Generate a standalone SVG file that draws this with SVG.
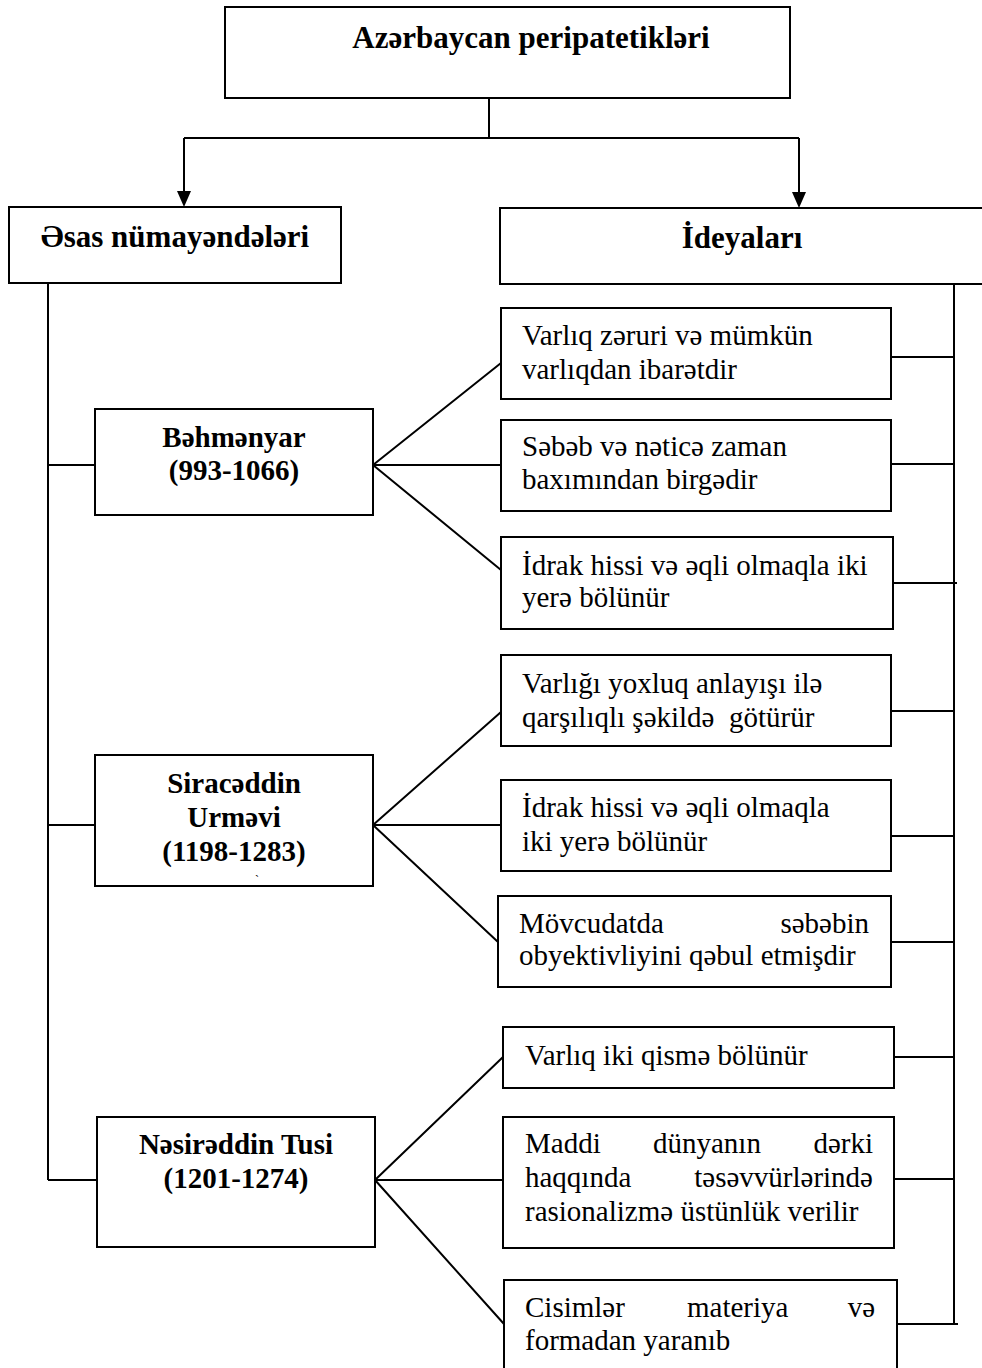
<svg xmlns="http://www.w3.org/2000/svg" width="982" height="1368" viewBox="0 0 982 1368">
<defs>
<style>
.box{fill:#fff;stroke:#000;stroke-width:2}
.ln{fill:none;stroke:#000;stroke-width:2}
.hd{font-family:"Liberation Serif","Times New Roman",serif;font-weight:bold;font-size:31px;fill:#000}
.nm{font-family:"Liberation Serif","Times New Roman",serif;font-weight:bold;font-size:29px;fill:#000;text-anchor:middle}
.tx{font-family:"Liberation Serif","Times New Roman",serif;font-size:29px;fill:#000}
</style>
<marker id="arr" viewBox="0 0 14 16" refX="7" refY="16" markerWidth="14" markerHeight="16" markerUnits="userSpaceOnUse" orient="auto-start-reverse">
<path d="M0,0 L14,0 L7,16 Z" fill="#000"/>
</marker>
</defs>
<rect width="982" height="1368" fill="#fff"/>

<g id="connectors">
<path class="ln" d="M489,98 V138"/>
<path class="ln" d="M184,138 H799"/>
<path class="ln" d="M184,138 V191"/>
<path d="M177,191 L191,191 L184,207 Z" fill="#000"/>
<path class="ln" d="M799,138 V192"/>
<path d="M792,192 L806,192 L799,208 Z" fill="#000"/>
<path class="ln" d="M48,283 V1180"/>
<path class="ln" d="M48,465 H98"/>
<path class="ln" d="M48,825 H95"/>
<path class="ln" d="M48,1180 H97"/>
<path class="ln" d="M954,284 V1324"/>
<path class="ln" d="M891,357 H954"/>
<path class="ln" d="M891,464 H954"/>
<path class="ln" d="M893,583 H957"/>
<path class="ln" d="M891,711 H954"/>
<path class="ln" d="M891,836 H954"/>
<path class="ln" d="M891,942 H954"/>
<path class="ln" d="M894,1057 H954"/>
<path class="ln" d="M894,1179 H954"/>
<path class="ln" d="M897,1324 H958"/>
<path class="ln" d="M373,465 L501,363 M373,465 H501 M373,465 L501,570"/>
<path class="ln" d="M373,825 L501,712 M373,825 H501 M373,825 L498,942"/>
<path class="ln" d="M375,1180 L503,1057 M375,1180 H503 M375,1180 L504,1324"/>
</g>

<g id="title">
<rect class="box" x="225" y="7" width="565" height="91"/>
<text class="hd" x="531" y="48" text-anchor="middle">Azərbaycan peripatetikləri</text>
</g>

<g id="esas">
<rect class="box" x="9" y="207" width="332" height="76"/>
<text class="hd" x="175" y="247" text-anchor="middle">Əsas nümayəndələri</text>
</g>

<g id="ideyalari">
<path class="box" d="M984,208 H500 V284 H984"/>
<text class="hd" x="742" y="248" text-anchor="middle">İdeyaları</text>
</g>

<g id="behmenyar">
<rect class="box" x="95" y="409" width="278" height="106"/>
<text class="nm" x="234" y="447">Bəhmənyar</text>
<text class="nm" x="234" y="480">(993-1066)</text>
</g>

<g id="siraceddin">
<rect class="box" x="95" y="755" width="278" height="131"/>
<text class="nm" x="234" y="793">Siracəddin</text>
<text class="nm" x="234" y="827">Urməvi</text>
<text class="nm" x="234" y="861">(1198-1283)</text>
<text class="tx" x="255" y="884" style="font-size:12px">`</text>
</g>

<g id="nesireddin">
<rect class="box" x="97" y="1117" width="278" height="130"/>
<text class="nm" x="236" y="1154">Nəsirəddin Tusi</text>
<text class="nm" x="236" y="1188">(1201-1274)</text>
</g>

<g id="idea1">
<rect class="box" x="501" y="308" width="390" height="91"/>
<text class="tx" x="522" y="345">Varlıq zəruri və mümkün</text>
<text class="tx" x="522" y="379">varlıqdan ibarətdir</text>
</g>

<g id="idea2">
<rect class="box" x="501" y="420" width="390" height="91"/>
<text class="tx" x="522" y="456">Səbəb və nəticə zaman</text>
<text class="tx" x="522" y="489">baxımından birgədir</text>
</g>

<g id="idea3">
<rect class="box" x="501" y="537" width="392" height="92"/>
<text class="tx" x="522" y="575">İdrak hissi və əqli olmaqla iki</text>
<text class="tx" x="522" y="607">yerə bölünür</text>
</g>

<g id="idea4">
<rect class="box" x="501" y="655" width="390" height="91"/>
<text class="tx" x="522" y="693">Varlığı yoxluq anlayışı ilə</text>
<text class="tx" x="522" y="727" xml:space="preserve">qarşılıqlı şəkildə  götürür</text>
</g>

<g id="idea5">
<rect class="box" x="501" y="780" width="390" height="91"/>
<text class="tx" x="522" y="817">İdrak hissi və əqli olmaqla</text>
<text class="tx" x="522" y="851">iki yerə bölünür</text>
</g>

<g id="idea6">
<rect class="box" x="498" y="896" width="393" height="91"/>
<text class="tx" x="519" y="933">Mövcudatda</text>
<text class="tx" x="869" y="933" text-anchor="end">səbəbin</text>
<text class="tx" x="519" y="965">obyektivliyini qəbul etmişdir</text>
</g>

<g id="idea7">
<rect class="box" x="503" y="1027" width="391" height="61"/>
<text class="tx" x="525" y="1065">Varlıq iki qismə bölünür</text>
</g>

<g id="idea8">
<rect class="box" x="503" y="1117" width="391" height="131"/>
<text class="tx" x="525" y="1153">Maddi</text>
<text class="tx" x="653" y="1153">dünyanın</text>
<text class="tx" x="873" y="1153" text-anchor="end">dərki</text>
<text class="tx" x="525" y="1187">haqqında</text>
<text class="tx" x="873" y="1187" text-anchor="end">təsəvvürlərində</text>
<text class="tx" x="525" y="1221">rasionalizmə üstünlük verilir</text>
</g>

<g id="idea9">
<rect class="box" x="504" y="1280" width="393" height="100"/>
<text class="tx" x="525" y="1317">Cisimlər</text>
<text class="tx" x="687" y="1317">materiya</text>
<text class="tx" x="875" y="1317" text-anchor="end">və</text>
<text class="tx" x="525" y="1350">formadan yaranıb</text>
</g>
</svg>
